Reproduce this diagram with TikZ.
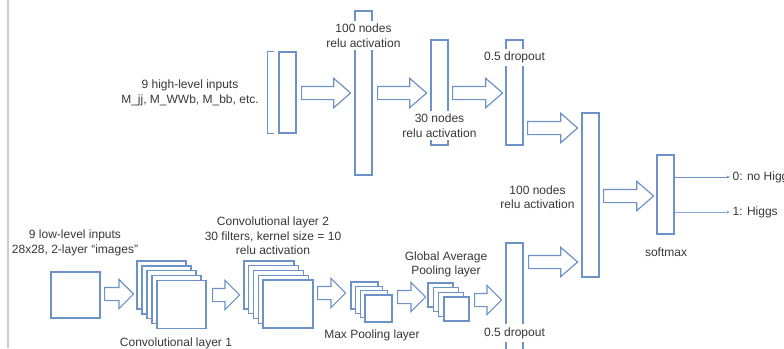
\documentclass[tikz,border=0pt]{standalone}
\usepackage{fontspec}
\setmainfont{Liberation Sans}
\usetikzlibrary{shapes, arrows.meta}

\definecolor{netblue}{RGB}{108,146,200}
\definecolor{ink}{RGB}{55,55,55}

\begin{document}
\begin{tikzpicture}[x=1pt, y=-1pt, line width=1.2pt,
		every node/.style={font=\fontsize{12}{14.5}\selectfont, text=ink},
		layer/.style={draw=netblue, shape=rectangle, minimum width=17pt, inner sep=0pt},
		sheet/.style={draw=netblue, fill=white, shape=rectangle, inner sep=0pt},
		fat/.style={draw=netblue, shape=single arrow, anchor=tail, inner xsep=0pt, inner ysep=6pt,
			minimum width=0pt, single arrow head extend=8pt, single arrow tip angle=82},
		small/.style={fat, single arrow tip angle=90},
		note/.style={align=center, inner sep=1pt},
		cover/.style={note, fill=white, inner xsep=3pt, inner ysep=3pt}]
		\useasboundingbox (0,0) rectangle (784,348);
		\draw [black!20, line width=2pt] (8,0) -- (8,348);

		% dense branch
		\node (hi) [layer, minimum height=81pt] at (287.5,92.5) {};
		\draw [netblue] ([xshift=-4pt]hi.north west) -- ++(-7,0) |- ([xshift=-4pt]hi.south west);
		\node (hilab) [note] at (190,93) {9 high-level inputs\\M\_jj, M\_WWb, M\_bb, etc.};
		\node (d1) [layer, minimum height=164pt] at (363.5,93) {};
		\node (d1lab) [cover] at (363.5,35.5) {100 nodes\\relu activation};
		\node (d2) [layer, minimum height=105pt] at (439.5,92.5) {};
		\node (d2lab) [cover] at (439.5,125.5) {30 nodes\\relu activation};
		\node (dr1) [layer, minimum height=105pt] at (514.5,92.5) {};
		\node (dr1lab) [cover] at (514.5,57.5) {0.5 dropout};

		\node (a1) [fat, minimum height=49pt] at (301,93) {};
		\node (a2) [fat, minimum height=49pt] at (377,93) {};
		\node (a3) [fat, minimum height=50pt] at (452,93) {};
		\node (a4) [fat, minimum height=50pt] at (527,128) {};

		% convolutional branch
		\node (img) [sheet, minimum width=49pt, minimum height=46pt] at (75.5,295) {};
		\node (imglab) [note] at (75,243) {9 low-level inputs\\28x28, 2-layer “images”};
		\foreach \i in {0,...,4}
			\node (cv1-\i) [sheet, minimum width=49pt, minimum height=48pt] at (161.5+5*\i,285+4.9*\i) {};
		\node (cv1lab) [note] at (176,343) {Convolutional layer 1};
		\foreach \i in {0,...,4}
			\node (cv2-\i) [sheet, minimum width=50pt, minimum height=48pt] at (269+4.75*\i,285+4.75*\i) {};
		\node (cv2lab) [note] at (273,236) {Convolutional layer 2\\30 filters, kernel size = 10\\relu activation};
		\foreach \i in {0,...,3}
			\node (mp-\i) [sheet, minimum width=27pt, minimum height=27pt] at (364.5+4.67*\i,295.5+4.33*\i) {};
		\node (mplab) [note] at (372,335) {Max Pooling layer};
		\foreach \i in {0,...,3}
			\node (gp-\i) [sheet, minimum width=25pt, minimum height=24pt] at (440.5+5.33*\i,295+4.67*\i) {};
		\node (gplab) [note] at (446,264.5) {Global Average\\Pooling layer};
		\node (dr2) [layer, minimum height=164pt] at (514.5,325) {};
		\node (dr2lab) [cover] at (514.5,333) {0.5 dropout};

		\node (b1) [small, minimum height=29pt] at (104,294) {};
		\node (b2) [small, minimum height=27pt] at (212,295) {};
		\node (b3) [small, minimum height=28pt] at (317,293) {};
		\node (b4) [small, minimum height=28pt] at (397,297) {};
		\node (b5) [small, minimum height=27pt] at (474,300) {};
		\node (a5) [fat, minimum height=49pt] at (528,262) {};

		% merged head
		\node (mg) [layer, minimum height=164pt] at (590.5,195) {};
		\node (mglab) [note] at (537.5,197) {100 nodes\\relu activation};
		\node (a6) [fat, minimum height=50pt] at (603,196) {};
		\node (sm) [layer, minimum height=79pt] at (665.5,194.5) {};
		\node (smlab) [note] at (666,252) {softmax};

		\node (y0) [note, anchor=west] at (731,177) {0: no Higgs};
		\node (y1) [note, anchor=west] at (731,212) {1: Higgs};
		\draw [netblue, line width=1pt, -{Latex[length=3pt, width=3pt]}, shorten >=1pt] (sm.east |- y0) -- (y0.west);
		\draw [netblue!80, line width=0.6pt, -{Latex[length=3pt, width=3pt]}, shorten >=1pt] (sm.east |- y1) -- (y1.west);
\end{tikzpicture}
\end{document}
